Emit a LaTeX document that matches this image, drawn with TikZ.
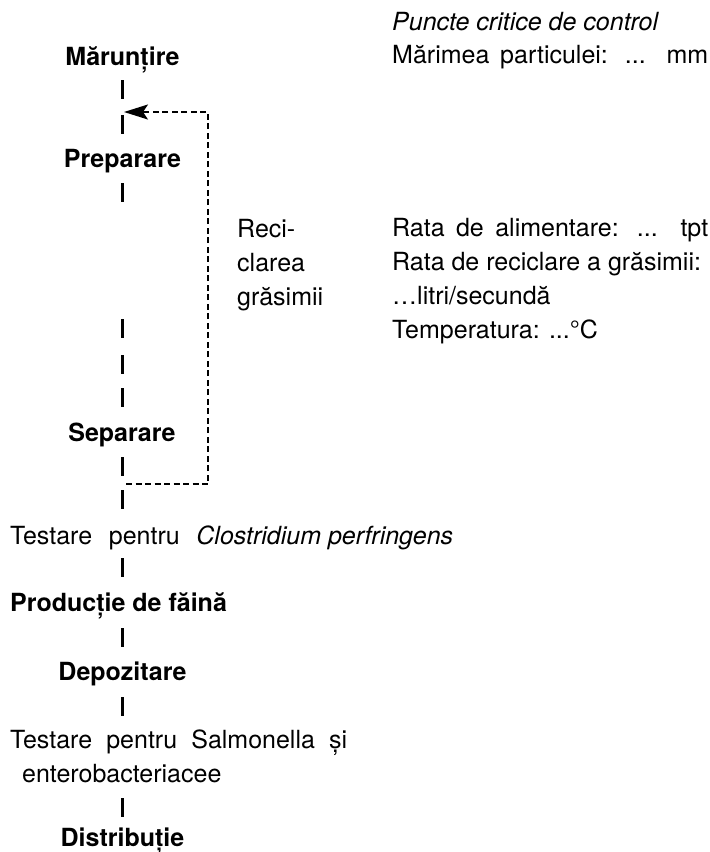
\documentclass[tikz,border=0pt]{standalone}
\usepackage{fontspec}
\setmainfont{TeX Gyre Heros}
\usetikzlibrary{arrows.meta}

\begin{document}
\begin{tikzpicture}[x=1pt,y=-1pt]
\tikzstyle{every node}=[inner sep=0pt,font=\fontsize{25}{33.7}\selectfont]
\tikzstyle{stage}=[anchor=base,font=\fontsize{25}{33.7}\selectfont\bfseries]
\tikzstyle{note}=[anchor=base west,align=left]
\tikzstyle{bar}=[line width=2.6pt]
\tikzstyle{recycle}=[line width=1.9pt,dash pattern=on 6pt off 3.5pt,-{Stealth[length=24pt,width=15pt,inset=5pt]}]
\useasboundingbox (0,0) rectangle (710,852);
% flow steps
\node[stage] (maruntire) at (122.5,65) {Mărunțire};
\node[stage] (preparare) at (122.5,167) {Preparare};
\node[stage] (separare) at (122,441) {Separare};
\node[note] (testclos) at (10,544) {\makebox[443pt][s]{Testare pentru \mbox{\textit{Clostridium perfringens}}}};
\node[stage,anchor=base west] (productie) at (10,611) {Producție de făină};
\node[stage] (depozitare) at (122.5,680) {Depozitare};
% base of a multi-line node is its last line
\node[note] (testsal) at (10,782) {\makebox[337pt][s]{Testare pentru Salmonella și}\\\hspace*{12pt}enterobacteriacee};
\node[stage] (distributie) at (122.5,846) {Distribuție};
% the short bars between steps
\foreach \y in {80,115,183,319,355,388,457,490,558,628,697,798}
  \draw[bar] (122.7,\y) -- ++(0,19);
% recycle loop
\coordinate (recout) at (126,484);
\coordinate (corner) at (208,484);
\coordinate (recin) at (124,112);
\draw[recycle] (recout) -- (corner) |- (recin);
\node[note] (recicl) at (237,305) {Reci-\\clarea\\grăsimii};
% control points
\node[note] (header) at (392,30) {\textit{Puncte critice de control}};
\node[note] (marime) at (392,63) {\makebox[316pt][s]{Mărimea particulei: ... mm}};
\node[note] (parametri) at (392,338) {\makebox[316pt][s]{Rata de alimentare: ... tpt}\\Rata de reciclare a grăsimii:\\…litri/secundă\\Temperatura: ...°C};
\end{tikzpicture}
\end{document}
